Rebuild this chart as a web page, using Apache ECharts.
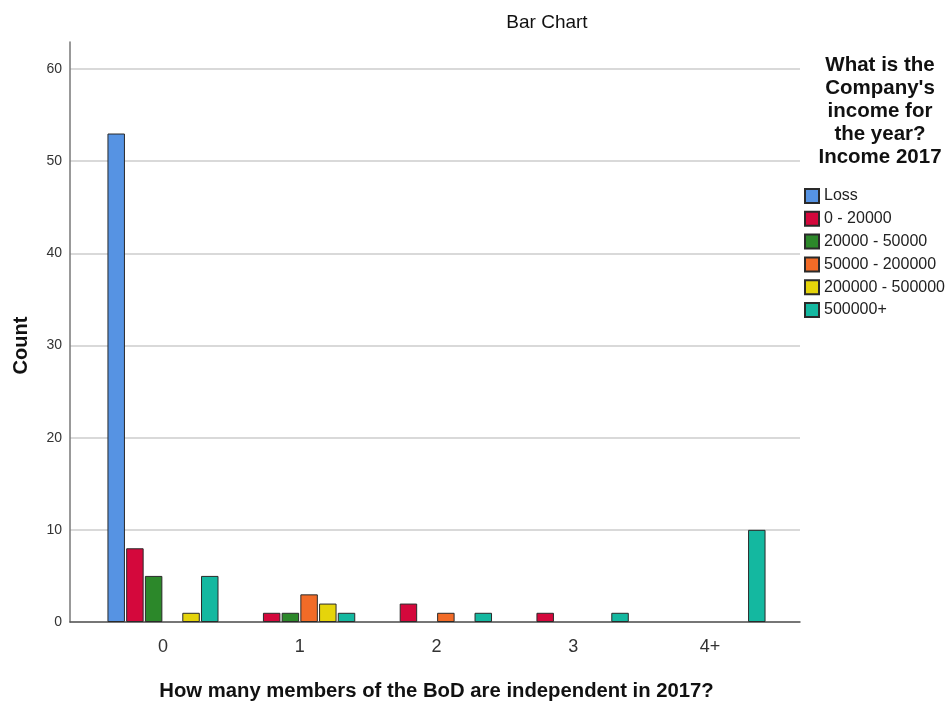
<!DOCTYPE html>
<html><head><meta charset="utf-8">
<script src="https://cdn.jsdelivr.net/npm/echarts@6/dist/echarts.min.js"></script>
<style>html,body{margin:0;padding:0;background:#fff}#c{width:948px;height:706px}</style>
</head><body><div id="c"></div>
<script>
const categories = ['0', '1', '2', '3', '4+'];
const seriesNames = ['Loss', '0 - 20000', '20000 - 50000', '50000 - 200000', '200000 - 500000', '500000+'];
const lossVals = [53, 0, 0, 0, 0];
const inc0_20k = [8, 1, 2, 1, 0];
const inc20k_50k = [5, 1, 0, 0, 0];
const inc50k_200k = [0, 3, 1, 0, 0];
const inc200k_500k = [1, 2, 0, 0, 0];
const inc500kPlus = [5, 1, 1, 1, 10];
const yTicks = [0, 10, 20, 30, 40, 50, 60];
const colors = ['#5693e3', '#d4083c', '#2c882a', '#f26b27', '#e5d40b', '#14b8a0'];
const allVals = [lossVals, inc0_20k, inc20k_50k, inc50k_200k, inc200k_500k, inc500kPlus];

const font = 'Liberation Sans, Arial, sans-serif';
const chart = echarts.init(document.getElementById('c'), null, {renderer: 'canvas'});
const series = seriesNames.map((n, i) => ({
  name: n, type: 'bar', xAxisIndex: 1, yAxisIndex: 1,
  data: allVals[i].map(v => v === 0 ? null : v),
  barCategoryGap: '18.8%', barGap: '7%',
  itemStyle: {color: colors[i], borderColor: '#2a2a2a', borderWidth: 1},
  emphasis: {disabled: true}
}));
chart.setOption({
  animation: false,
  backgroundColor: '#fff',
  textStyle: {fontFamily: font},
  title: [
    {text: 'Bar Chart', left: 542, top: 8, textAlign: 'center',
     textStyle: {fontFamily: font, fontSize: 19, lineHeight: 20, fontWeight: 'normal', color: '#111'}},
    {text: "What is the\nCompany's\nincome for\nthe year?\nIncome 2017", left: 875, top: 48.5, textAlign: 'center',
     textStyle: {fontFamily: font, fontSize: 20.5, fontWeight: 'bold', color: '#111', lineHeight: 23, align: 'center'}}
  ],
  legend: {
    data: seriesNames, orient: 'vertical', left: 799, top: 183,
    itemWidth: 14, itemHeight: 14, itemGap: 6.8, icon: 'rect',
    textStyle: {fontFamily: font, fontSize: 16, lineHeight: 16, color: '#222'},
    selectedMode: false
  },
  grid: [
    {left: 70, right: 148, top: 69, bottom: 84},
    {left: 94.6, right: 169.6, top: 69, bottom: 84},
    {left: 70, right: 148, top: 42, bottom: 84}
  ],
  xAxis: [
    {type: 'value', gridIndex: 0, min: 0, max: 1, show: true,
     axisLine: {show: true, onZero: false, lineStyle: {color: '#555', width: 1.5}},
     axisTick: {show: false}, axisLabel: {show: false}, splitLine: {show: false}},
    {type: 'category', gridIndex: 1, data: categories,
     axisLine: {show: false}, axisTick: {show: false},
     axisLabel: {fontFamily: font, fontSize: 18, color: '#333', margin: 16},
     name: 'How many members of the BoD are independent in 2017?', nameLocation: 'middle', nameGap: 59,
     nameTextStyle: {fontFamily: font, fontSize: 20.3, fontWeight: 'bold', color: '#111'}},
    {type: 'value', gridIndex: 2, show: false, min: 0, max: 1}
  ],
  yAxis: [
    {type: 'value', gridIndex: 0, min: yTicks[0], max: yTicks[yTicks.length - 1], interval: 10,
     axisLine: {show: false}, axisTick: {show: false},
     axisLabel: {fontFamily: font, fontSize: 14, color: '#333', margin: 8},
     splitLine: {show: true, lineStyle: {color: '#cccccc', width: 1.5}},
     name: 'Count', nameLocation: 'middle', nameGap: 39,
     nameTextStyle: {fontFamily: font, fontSize: 20, fontWeight: 'bold', color: '#111'}},
    {type: 'value', gridIndex: 1, min: yTicks[0], max: yTicks[yTicks.length - 1], show: false},
    {type: 'value', gridIndex: 2, min: 0, max: 1, show: true,
     axisLine: {show: true, lineStyle: {color: '#777', width: 1.5}},
     axisTick: {show: false}, axisLabel: {show: false}, splitLine: {show: false}}
  ],
  series: series
});
</script></body></html>
